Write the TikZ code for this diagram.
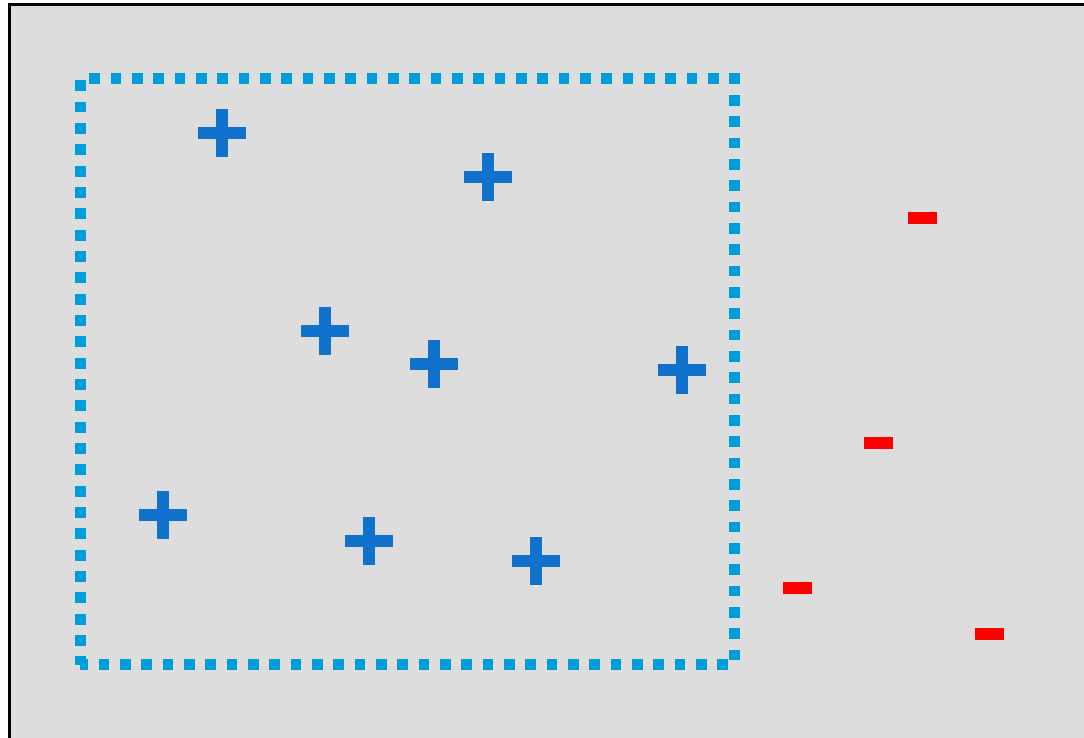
\documentclass[tikz,border=0pt]{standalone}
\definecolor{bggray}{RGB}{221,221,221}
\definecolor{dotblue}{RGB}{0,157,219}
\definecolor{plusblue}{RGB}{16,114,204}
\definecolor{minusred}{RGB}{255,0,0}
\tikzset{
  px/.style={x=0.75pt,y=-0.75pt},
  framebox/.style={draw=black,fill=bggray,line width=2.25pt},
  dotline/.style={draw=dotblue,line width=8.25pt,dash pattern=on 8.1pt off 7.9pt,dash phase=2pt},
  plusmark/.style={minimum size=36pt,inner sep=0pt,outer sep=0pt,
    path picture={
      \fill[plusblue] ([yshift=-4.5pt]path picture bounding box.west) rectangle ([yshift=4.5pt]path picture bounding box.east);
      \fill[plusblue] ([xshift=-4.5pt]path picture bounding box.south) rectangle ([xshift=4.5pt]path picture bounding box.north);
    }},
  minusmark/.style={fill=minusred,minimum width=21.75pt,minimum height=9pt,inner sep=0pt,outer sep=0pt}
}
\begin{document}
\begin{tikzpicture}[px]
\clip (0,0) rectangle (1084,738);
\useasboundingbox (0,0) rectangle (1084,738);
\fill[white] (0,0) rectangle (1084,738);
\draw[framebox] (9,5) rectangle (1110,770);
\coordinate (c1) at (80,664.5);
\coordinate (c2) at (80,79);
\coordinate (c3) at (734.5,79);
\coordinate (c4) at (734.5,664.5);
\draw[dotline] (c1) -- (c2) -- (c3) -- (c4) -- cycle;
\node[plusmark] (p1) at (222,133) {};
\node[plusmark] (p2) at (488,177) {};
\node[plusmark] (p3) at (325,331) {};
\node[plusmark] (p4) at (434,364) {};
\node[plusmark] (p5) at (682,370) {};
\node[plusmark] (p6) at (163,515) {};
\node[plusmark] (p7) at (369,541) {};
\node[plusmark] (p8) at (536,561) {};
\node[minusmark] (m1) at (922.5,218) {};
\node[minusmark] (m2) at (878.5,443) {};
\node[minusmark] (m3) at (797.5,588) {};
\node[minusmark] (m4) at (989.5,634) {};
\end{tikzpicture}
\end{document}
